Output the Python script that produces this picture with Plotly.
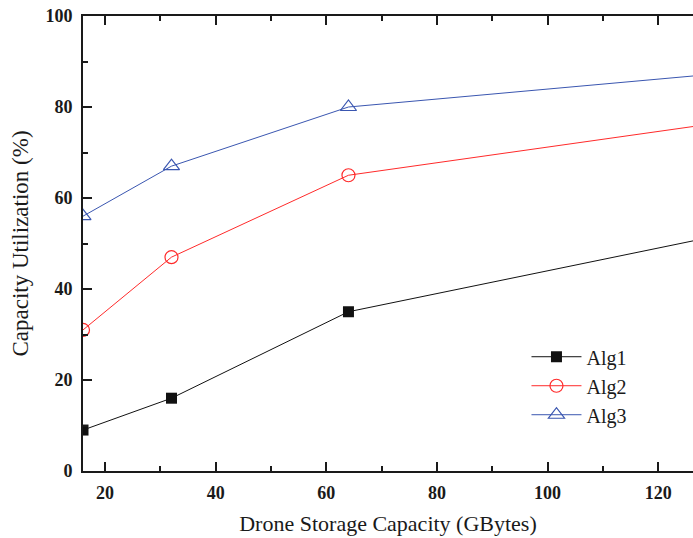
import plotly.graph_objects as go

capacity = [16, 32, 64, 128]
alg1 = [9, 16, 35, 51]
alg2 = [31, 47, 65, 76]
alg3 = [56, 67, 80, 87]
series_names = ["Alg1", "Alg2", "Alg3"]
x_ticks = [20, 40, 60, 80, 100, 120]
y_ticks = [0, 20, 40, 60, 80, 100]

FONT = "Liberation Serif"

fig = go.Figure()
fig.add_trace(go.Scatter(x=capacity, y=alg1, name=series_names[0], mode="lines+markers",
                         line=dict(color="#111111", width=1),
                         marker=dict(symbol="square", size=11, color="#111111")))
fig.add_trace(go.Scatter(x=capacity, y=alg2, name=series_names[1], mode="lines+markers",
                         line=dict(color="#ff2a2a", width=1),
                         marker=dict(symbol="circle-open", size=13, color="#ff2a2a", line=dict(width=1.2))))
fig.add_trace(go.Scatter(x=capacity, y=alg3, name=series_names[2], mode="lines+markers",
                         line=dict(color="#3a56b0", width=1),
                         marker=dict(symbol="triangle-up-open", size=14, color="#3a56b0", line=dict(width=1.2))))

axis_common = dict(showgrid=False, zeroline=False, showline=True, linecolor="#1a1a1a", linewidth=2,
                   ticks="inside", ticklen=9, tickwidth=2, tickcolor="#1a1a1a", automargin=False,
                   ticklabeloverflow="allow",
                   tickfont=dict(family=FONT, size=18, color="#1a1a1a", weight="bold"))

fig.update_xaxes(range=[16, 126.3], tickvals=x_ticks, mirror="ticks", ticklabelstandoff=4,
                 minor=dict(dtick=10, tick0=0, ticks="inside", ticklen=5, tickwidth=2, tickcolor="#1a1a1a"),
                 title=dict(text="Drone Storage Capacity (GBytes)", standoff=14,
                            font=dict(family=FONT, size=22, color="#1a1a1a")),
                 **axis_common)
fig.update_yaxes(range=[0, 100], tickvals=y_ticks, ticklabelstandoff=5,
                 minor=dict(dtick=10, tick0=0, ticks="inside", ticklen=5, tickwidth=2, tickcolor="#1a1a1a"),
                 title=dict(text="Capacity Utilization (%)", standoff=10,
                            font=dict(family=FONT, size=23, color="#1a1a1a")),
                 **axis_common)

fig.update_layout(width=693, height=538, margin=dict(l=83, r=0, t=16, b=67),
                  paper_bgcolor="white", plot_bgcolor="white",
                  font=dict(family=FONT, color="#1a1a1a"),
                  legend=dict(x=0.727, y=0.294, xanchor="left", yanchor="top",
                              bgcolor="rgba(0,0,0,0)", itemwidth=50,
                              font=dict(family=FONT, size=20, color="#1a1a1a"),
                              tracegroupgap=0))

# remove the default page margin so the figure sits at the window's top-left corner
fig.write_html("out.html", config={"displayModeBar": False},
               post_script="document.body.style.margin='0';document.body.style.overflow='hidden';")
